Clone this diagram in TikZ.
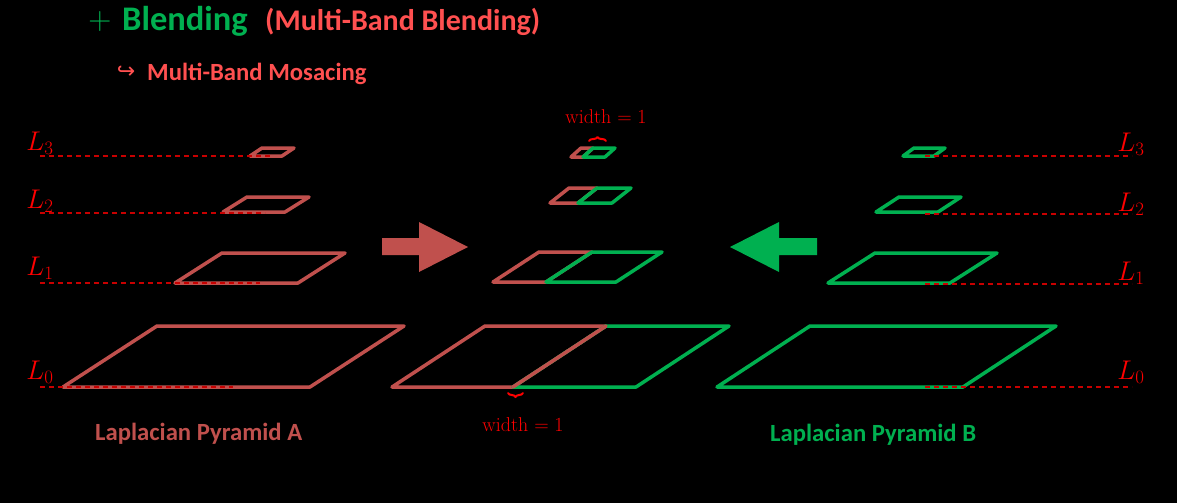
\RequirePackage{fix-cm}
\documentclass[tikz,border=0pt]{standalone}
\usepackage{amsmath}
\usepackage{fontspec}
\setsansfont{Carlito}
\newfontfamily\simbolos{DejaVu Sans}
\definecolor{rojoA}{RGB}{192,80,77}
\definecolor{verdeB}{RGB}{0,176,80}
\definecolor{rojoTit}{RGB}{255,80,80}
\definecolor{rojoNiv}{RGB}{255,0,0}
\definecolor{rojoLin}{RGB}{200,0,0}
\usetikzlibrary{positioning, decorations.pathreplacing}

\begin{document}
\begin{tikzpicture}[x=1pt, y=-1pt, line join=round, line cap=round,
  capaA/.style={draw=rojoA, line width=3.5pt},
  capaB/.style={draw=verdeB, line width=3.5pt},
  nivel/.style={draw=rojoLin, line width=1.2pt, line cap=butt, dash pattern=on 5pt off 4pt},
  etiq/.style={text=rojoNiv, font=\fontsize{27}{28}\selectfont, inner sep=0pt},
  titulo/.style={font=\sffamily\bfseries\fontsize{24.7}{28}\selectfont, inner sep=0pt},
  ancho/.style={text=rojoNiv, font=\fontsize{20}{22}\selectfont, inner sep=0pt},
  llave/.style={draw=rojoNiv, line width=2pt, decorate, decoration={brace, amplitude=4pt}}]
  \useasboundingbox[fill=black] (0,0) rectangle (1177,503);

  % Titulo
  \node[titulo, text=verdeB, anchor=base west, font=\sffamily\bfseries\fontsize{34.5}{36}\selectfont] (blend) at (122,31) {Blending};
  \node[text=verdeB, inner sep=0pt, font=\fontsize{32}{32}\selectfont] (mas) at (100,22) {$+$};
  \node[titulo, text=rojoTit, anchor=base west, font=\sffamily\bfseries\fontsize{30}{32}\selectfont] (mbb) at (265,31) {(Multi-Band Blending)};
  \node[titulo, text=rojoTit, anchor=base west] (mosaico) at (147,80) {Multi-Band Mosacing};
  \node[text=rojoTit, inner sep=0pt, font=\simbolos\fontsize{22}{22}\selectfont] (gancho) at (126,72) {↪};

  % Piramide A
  \foreach \bl/\br/\yb/\dx/\dy in {63/310/387/94/61, 175/298/283/47/30, 223/285/212/24/15, 250/282/156/12/8}
    \draw[capaA] (\bl,\yb) -- (\br,\yb) -- (\br+\dx,\yb-\dy) -- (\bl+\dx,\yb-\dy) -- cycle;
  % Piramide B
  \foreach \bl/\br/\yb/\dx/\dy in {717/963/387/93/61, 828/950/283/47/30, 876/938/212/23/15, 903/934/156/11/8}
    \draw[capaB] (\bl,\yb) -- (\br,\yb) -- (\br+\dx,\yb-\dy) -- (\bl+\dx,\yb-\dy) -- cycle;
  % Mezcla
  \foreach \bl/\m/\br/\yb/\dx/\dy in {392/513/636/387/93/61, 493/546/616/282/46/30, 550/578/612/203/19/15, 571/583/605/157/10/9} {
    \draw[capaA] (\bl,\yb) -- (\m,\yb) -- (\m+\dx,\yb-\dy) -- (\bl+\dx,\yb-\dy) -- cycle;
    \draw[capaB] (\m,\yb) -- (\br,\yb) -- (\br+\dx,\yb-\dy) -- (\m+\dx,\yb-\dy) -- cycle;
  }
  \draw[rojoA, line width=3.5pt] (513,387) -- (606,326);

  % Niveles
  \foreach \i/\yl/\yt/\xe in {3/156/143/272, 2/213/201/265, 1/283/268/260, 0/387/372/233} {
    \draw[nivel] (40,\yl) -- (\xe,\yl);
    \node[etiq] (Liz\i) at (40,\yt) {$L_{\i}$};
  }
  \foreach \i/\yl/\yt in {3/156/144, 2/214/204, 1/284/273, 0/387/372} {
    \draw[nivel] (925,\yl) -- (1132,\yl);
    \node[etiq] (Lde\i) at (1131,\yt) {$L_{\i}$};
  }

  % Flechas
  \fill[rojoA] (382,238) -- (419,238) -- (419,222) -- (468,247) -- (419,272) -- (419,255) -- (382,255) -- cycle;
  \fill[verdeB] (817,238) -- (779,238) -- (779,222) -- (730,247) -- (779,272) -- (779,255) -- (817,255) -- cycle;

  % Anchos
  \node[ancho] (anchoSup) at (606,117) {width $=1$};
  \draw[llave] (589,141) -- (606,141);
  \node[ancho] (anchoInf) at (523,425) {width $=1$};
  \draw[llave] (523,393) -- (508,393);

  % Nombres
  \node[titulo, text=rojoA, anchor=base west] (pirA) at (95,440) {Laplacian Pyramid A};
  \node[titulo, text=verdeB, anchor=base west] (pirB) at (770,441) {Laplacian Pyramid B};
\end{tikzpicture}
\end{document}
